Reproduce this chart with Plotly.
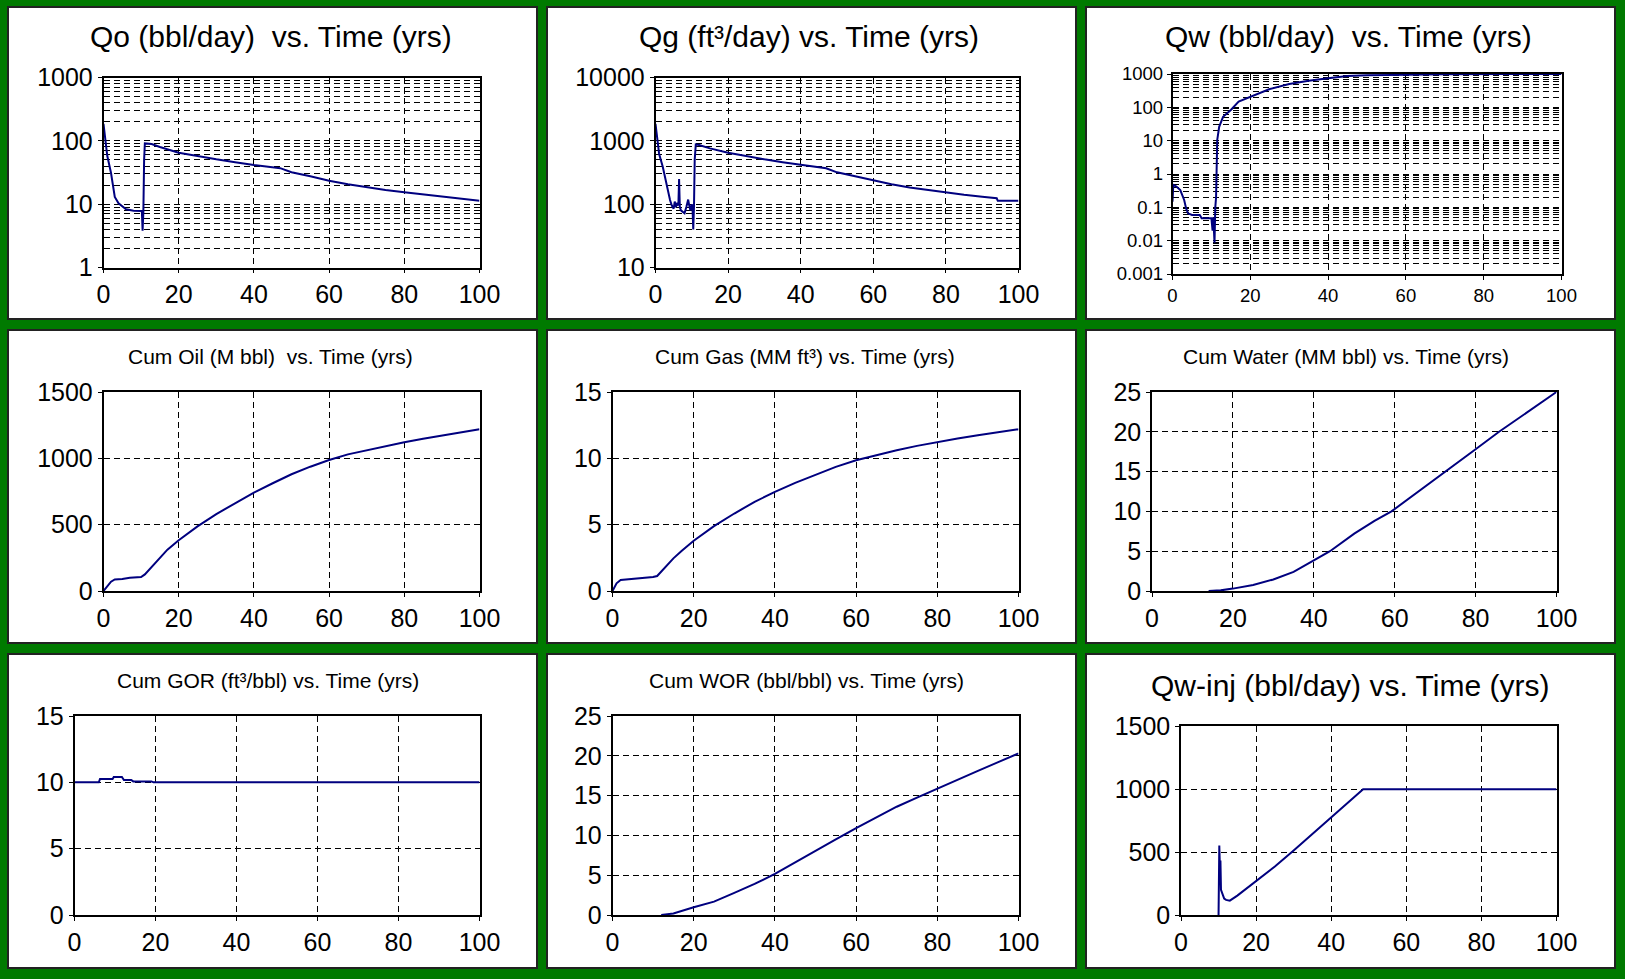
import plotly.graph_objects as go

W, H = 1625, 979

# ---------------- data ----------------
t_qo = [0, 0.5, 1, 2, 3, 4, 5, 6, 8, 10, 10.2, 10.4, 10.6, 10.8, 11, 12.8, 15, 20, 25, 30,
        35, 40, 47, 50, 55, 60, 65, 70, 75, 80, 85, 90, 95, 100]
qo = [185, 97, 58, 31, 13, 10.3, 9.1, 8.3, 7.9, 7.9, 7.8, 3.8, 7.5, 50, 91, 89, 80, 65, 57, 51,
      46, 41.5, 37, 32, 27.5, 23.4, 20.6, 18.4, 16.7, 15.4, 14.2, 13.1, 12.1, 11.3]

t_qg = [0, 0.5, 1, 2, 3, 3.5, 4, 4.5, 5, 5.3, 5.6, 6, 6.3, 6.5, 6.7, 7, 7.5, 8, 8.5, 9, 9.3,
        9.6, 10, 10.2, 10.4, 10.6, 10.8, 11.1, 12, 15, 20, 25, 30, 35, 40, 47, 50, 55, 60, 65,
        70, 75, 80, 85, 90, 94, 94.3, 100]
qg = [1850, 980, 620, 390, 200, 148, 116, 95, 85, 110, 90, 105, 95, 250, 90, 80, 75, 72, 90,
      118, 95, 80, 100, 85, 40, 90, 500, 880, 860, 760, 650, 570, 510, 460, 415, 368, 318, 275,
      234, 207, 184, 167, 153, 141, 131, 124, 113, 113]

t_qw = [0, 0.2, 1, 2, 3, 3.5, 4, 5, 7, 7.5, 10, 10.3, 10.5, 10.8, 11, 11.2, 11.5, 12, 13, 15,
        17, 20, 25, 30, 35, 40, 45, 50, 60, 70, 86, 100]
qw = [0.148, 0.47, 0.42, 0.33, 0.166, 0.093, 0.066, 0.059, 0.059, 0.047, 0.047, 0.02, 0.05,
      0.0087, 0.1, 0.2, 10.5, 26, 52, 83, 148, 209, 355, 500, 630, 741, 870, 912, 955, 977,
      1000, 1005]

t_cum = [0, 1, 2, 3, 5, 7, 10, 11, 13, 15, 17, 20, 25, 30, 35, 40, 45, 50, 55, 60, 65, 70, 75,
         80, 85, 90, 95, 100]
cum_oil = [0, 37, 70, 87, 90, 100, 105, 125, 187, 257, 312, 382, 487, 580, 662, 742, 812, 880,
           937, 987, 1030, 1062, 1095, 1122, 1147, 1170, 1195, 1220]
cum_gas = [0, 0.58, 0.83, 0.86, 0.88, 0.95, 1.05, 1.13, 1.83, 2.46, 3.01, 3.79, 4.89, 5.84,
           6.72, 7.47, 8.15, 8.78, 9.36, 9.86, 10.26, 10.61, 10.94, 11.24, 11.49, 11.74, 11.96,
           12.19]

t_cw = [14, 17, 20, 25, 30, 35, 40, 44, 50, 55, 59.2, 65, 72.5, 80, 85.8, 90, 95, 100]
cum_water = [0, 0.08, 0.3, 0.75, 1.45, 2.4, 3.85, 5.0, 7.2, 8.8, 10.0, 12.15, 15.0, 17.8, 20.0,
             21.5, 23.2, 25.0]

t_gor = [0, 6, 6.3, 9.4, 9.7, 11.7, 12.2, 14, 14.5, 19, 19.5, 100]
cum_gor = [10.0, 10.0, 10.25, 10.25, 10.4, 10.4, 10.18, 10.18, 10.07, 10.07, 10.0, 10.0]

t_wor = [12, 15, 20, 25, 30, 35, 40, 45, 50, 55, 60, 65, 70, 75, 80, 85, 90, 95, 100]
cum_wor = [0, 0.2, 0.97, 1.68, 2.77, 3.9, 5.17, 6.64, 8.1, 9.5, 10.9, 12.3, 13.6, 14.75, 15.9,
           17.0, 18.1, 19.2, 20.3]

t_inj = [10, 10.05, 10.2, 10.35, 10.5, 10.65, 11, 11.5, 12, 13, 15, 20, 25, 30, 35, 40, 45,
         48.5, 60, 80, 100]
qw_inj = [0, 530, 552, 380, 433, 200, 170, 130, 120, 114, 154, 273, 385, 512, 645, 778, 910,
          998, 998, 998, 998]

titles = ["Qo (bbl/day)\u00a0 vs. Time (yrs)", "Qg (ft\u00b3/day) vs. Time (yrs)",
          "Qw (bbl/day)\u00a0 vs. Time (yrs)",
          "Cum Oil (M bbl)\u00a0 vs. Time (yrs)", "Cum Gas (MM ft\u00b3) vs. Time (yrs)",
          "Cum Water (MM bbl) vs. Time (yrs)",
          "Cum GOR (ft\u00b3/bbl) vs. Time (yrs)", "Cum WOR (bbl/bbl) vs. Time (yrs)",
          "Qw-inj (bbl/day) vs. Time (yrs)"]

# ---------------- layout geometry ----------------
GREEN = "#007a00"
LINE = "#00007f"
FONT = "Liberation Sans, Arial, sans-serif"
DASH = "6px,4px"

panels_x = [(8, 537), (547, 1076), (1086, 1615)]
panels_y = [(7, 319), (330, 643), (654, 968)]

# plot areas (px): x0, x1, y0(top), y1(bottom)
areas = [
    (103.5, 479.5, 77.5, 267.5), (655.5, 1018.5, 77.5, 267.5), (1172.5, 1561.5, 74, 274),
    (103.5, 479.5, 392, 591), (612.5, 1018.5, 392, 591), (1152, 1556.5, 392, 591),
    (74.5, 479.5, 716, 915), (612.5, 1018.5, 716, 915), (1181, 1556.5, 726, 915),
]
title_pos = [(271, 37, 30), (809, 37, 30), (1348, 37, 30),
             (270, 356, 21), (805, 356, 21), (1346, 356, 21),
             (268, 680, 21), (806, 680, 21), (1350, 685, 30)]

series = [(t_qo, qo), (t_qg, qg), (t_qw, qw), (t_cum, cum_oil), (t_cum, cum_gas),
          (t_cw, cum_water), (t_gor, cum_gor), (t_wor, cum_wor), (t_inj, qw_inj)]


def decades(a, b):
    return [10.0 ** k for k in range(a, b + 1)]


def minors(a, b):
    return [m * 10.0 ** k for k in range(a, b) for m in range(2, 10)]


def fmt(v):
    return ("%.3f" % v).rstrip("0").rstrip(".")


yspecs = [
    ("log", (0, 3)), ("log", (1, 4)), ("log", (-3, 3)),
    ("lin", (0, 1500, 500)), ("lin", (0, 15, 5)), ("lin", (0, 25, 5)),
    ("lin", (0, 15, 5)), ("lin", (0, 25, 5)), ("lin", (0, 1500, 500)),
]
tick_sizes = [25, 25, 18.5, 25, 25, 25, 25, 25, 25]

fig = go.Figure()

layout = dict(template="none", width=W, height=H, autosize=False,
              margin=dict(l=0, r=0, t=0, b=0, pad=0),
              paper_bgcolor=GREEN, plot_bgcolor="white", showlegend=False,
              shapes=[], annotations=[])

for r, (py0, py1) in enumerate(panels_y):
    for c, (px0, px1) in enumerate(panels_x):
        layout["shapes"].append(dict(type="rect", xref="paper", yref="paper",
                                     x0=px0 / W, x1=px1 / W, y0=1 - py1 / H, y1=1 - py0 / H,
                                     fillcolor="white", line=dict(color="#222222", width=2),
                                     layer="below"))

for i in range(9):
    n = "" if i == 0 else str(i + 1)
    x0, x1, y0, y1 = areas[i]
    ts = tick_sizes[i]
    t, v = series[i]
    fig.add_trace(go.Scatter(x=t, y=v, mode="lines", line=dict(color=LINE, width=2),
                             xaxis="x" + n, yaxis="y" + n, hoverinfo="skip"))
    common = dict(showline=True, mirror=True, linecolor="black", linewidth=1.5,
                  ticks="outside", ticklen=4, tickcolor="black", zeroline=False,
                  automargin=False,
                  showgrid=True, gridcolor="black", gridwidth=1, griddash=DASH,
                  tickfont=dict(family=FONT, size=ts, color="black"))
    layout["xaxis" + n] = dict(domain=[x0 / W, x1 / W], anchor="y" + n, range=[0, 100],
                               tickmode="array", tickvals=[0, 20, 40, 60, 80, 100],
                               ticktext=["0", "20", "40", "60", "80", "100"], **common)
    spec = yspecs[i]
    if spec[0] == "log":
        a, b = spec[1]
        tv = decades(a, b)
        ya = dict(type="log", range=[a, b], tickmode="array", tickvals=tv,
                  ticktext=[fmt(x) for x in tv],
                  minor=dict(tickmode="array", tickvals=minors(a, b), showgrid=True,
                             gridcolor="black", gridwidth=1, griddash=DASH, ticks=""))
    else:
        lo, hi, step = spec[1]
        ya = dict(range=[lo, hi], tickmode="linear", tick0=lo, dtick=step)
    layout["yaxis" + n] = dict(domain=[1 - y1 / H, 1 - y0 / H], anchor="x" + n, **ya, **common)
    tx, ty, tsz = title_pos[i]
    layout["annotations"].append(dict(text=titles[i], xref="paper", yref="paper",
                                      x=tx / W, y=1 - ty / H, xanchor="center",
                                      yanchor="middle", showarrow=False,
                                      font=dict(family=FONT, size=tsz, color="black")))

fig.update_layout(**layout)
fig.write_html("out.html", config={"displayModeBar": False},
               post_script="document.body.style.margin='0';"
                           "document.body.style.padding='0';"
                           "document.body.style.overflow='hidden';"
                           "document.body.style.background='" + GREEN + "';")
